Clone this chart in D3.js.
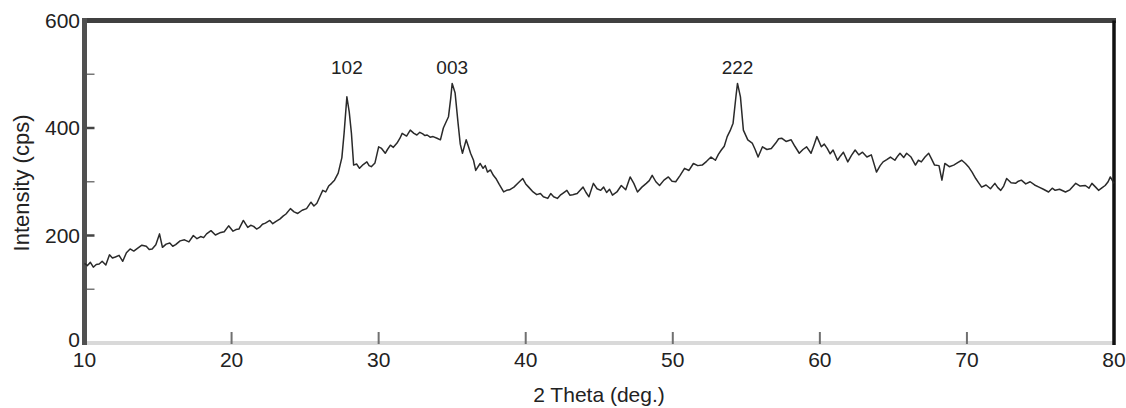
<!DOCTYPE html>
<html>
<head>
<meta charset="utf-8">
<script src="https://cdn.jsdelivr.net/npm/d3@7"></script>
<style>
  body { margin: 0; background: #fff; }
  text { font-family: 'Liberation Sans', Arial, sans-serif; fill: #222; }
</style>
</head>
<body>
<div id="chart"></div>
<script>
// --- Data ---
const twoTheta = [10.0, 10.2, 10.4, 10.6, 10.8, 11.0, 11.2, 11.45, 11.7, 11.9, 12.1, 12.35, 12.6, 12.85, 13.1, 13.35,
  13.6, 13.9, 14.2, 14.4, 14.6, 14.85, 15.1, 15.3, 15.55, 15.8, 16.0, 16.2, 16.5, 16.8, 17.1, 17.4, 17.65, 17.9,
  18.1, 18.3, 18.6, 18.9, 19.2, 19.5, 19.8, 20.1, 20.3, 20.5, 20.8, 21.1, 21.3, 21.5, 21.7, 21.9, 22.1, 22.3,
  22.6, 22.8, 23.0, 23.3, 23.5, 23.7, 24.0, 24.25, 24.5, 24.8, 25.1, 25.4, 25.6, 25.8, 26.0, 26.2, 26.4, 26.6,
  26.8, 27.0, 27.25, 27.5, 27.65, 27.84, 28.0, 28.15, 28.3, 28.5, 28.7, 28.95, 29.2, 29.35, 29.5, 29.75, 30.0,
  30.2, 30.45, 30.6, 30.8, 31.0, 31.25, 31.45, 31.6, 31.9, 32.15, 32.4, 32.6, 32.8, 33.0, 33.15, 33.3, 33.5,
  33.7, 33.97, 34.2, 34.4, 34.6, 34.75, 34.9, 35.0, 35.2, 35.4, 35.55, 35.7, 35.95, 36.1, 36.25, 36.45, 36.6,
  36.9, 37.1, 37.25, 37.4, 37.6, 37.8, 38.0, 38.2, 38.5, 38.7, 38.9, 39.2, 39.5, 39.8, 40.0, 40.2, 40.5, 40.75,
  41.0, 41.2, 41.5, 41.7, 41.9, 42.15, 42.35, 42.5, 42.8, 43.0, 43.2, 43.5, 43.7, 43.9, 44.1, 44.3, 44.6, 44.85,
  45.1, 45.3, 45.5, 45.7, 45.9, 46.2, 46.5, 46.8, 47.1, 47.35, 47.6, 47.9, 48.2, 48.4, 48.6, 48.85, 49.1, 49.4,
  49.7, 49.95, 50.2, 50.5, 50.8, 51.1, 51.4, 51.7, 52.0, 52.3, 52.6, 52.9, 53.1, 53.3, 53.5, 53.7, 53.9, 54.1,
  54.3, 54.4, 54.6, 54.8, 55.1, 55.4, 55.6, 55.8, 56.1, 56.4, 56.7, 57.0, 57.2, 57.4, 57.7, 58.05, 58.3, 58.6,
  58.85, 59.1, 59.4, 59.6, 59.8, 60.1, 60.3, 60.5, 60.7, 60.9, 61.2, 61.4, 61.6, 61.9, 62.15, 62.4, 62.65,
  62.9, 63.2, 63.5, 63.85, 64.1, 64.3, 64.55, 64.8, 65.1, 65.3, 65.45, 65.7, 65.9, 66.2, 66.5, 66.7, 66.9,
  67.15, 67.4, 67.6, 67.8, 68.1, 68.3, 68.5, 68.8, 69.1, 69.4, 69.65, 69.9, 70.1, 70.35, 70.6, 70.8, 71.0,
  71.3, 71.6, 71.9, 72.1, 72.3, 72.5, 72.7, 73.0, 73.3, 73.5, 73.7, 74.0, 74.3, 74.6, 74.9, 75.2, 75.55, 75.8,
  76.0, 76.3, 76.7, 77.0, 77.4, 77.7, 78.05, 78.3, 78.5, 78.75, 78.95, 79.2, 79.4, 79.6, 79.75, 80.0];
const intensity = [148, 144, 150, 141, 146, 147, 152, 145, 164, 158, 160, 163, 152, 168, 175, 171,
  176, 182, 180, 174, 175, 183, 203, 178, 184, 186, 180, 183, 190, 192, 188, 200, 194, 198,
  196, 203, 209, 201, 205, 207, 218, 208, 211, 212, 228, 215, 219, 217, 212, 215, 221, 223,
  228, 222, 226, 231, 236, 240, 250, 244, 241, 247, 250, 262, 255, 260, 272, 284, 281, 292,
  297, 303, 316, 345, 390, 458, 430, 390, 331, 333, 325, 332, 337, 330, 328, 335, 365,
  362, 353, 360, 368, 364, 372, 381, 390, 385, 396, 390, 387, 392, 389, 386, 387, 383,
  384, 381, 378, 400, 412, 421, 455, 483, 465, 409, 370, 353, 378, 366, 353, 340, 321,
  334, 325, 330, 318, 322, 312, 305, 295, 281, 284, 285, 290, 298, 306, 296, 290, 281, 276,
  278, 272, 269, 278, 272, 269, 275, 278, 284, 275, 276, 278, 284, 290, 280, 272, 297, 287,
  284, 290, 280, 286, 275, 281, 293, 285, 309, 297, 281, 290, 297, 302, 312, 300, 293, 303,
  309, 301, 300, 312, 325, 321, 334, 330, 331, 338, 346, 340, 351, 359, 366, 384, 395, 409,
  460, 483, 458, 396, 378, 372, 360, 346, 365, 360, 362, 372, 380, 381, 375, 378, 366, 353,
  360, 365, 353, 368, 384, 365, 370, 362, 352, 359, 340, 348, 355, 337, 349, 359, 350,
  355, 346, 350, 318, 330, 337, 341, 346, 340, 348, 353, 345, 353, 346, 331, 340, 337,
  346, 353, 342, 331, 330, 303, 334, 328, 331, 336, 340, 334, 328, 318, 306, 298, 290,
  294, 287, 297, 289, 284, 292, 306, 298, 297, 301, 303, 296, 300, 294, 290, 286, 281, 288,
  284, 286, 281, 285, 297, 292, 293, 288, 297, 290, 284, 289, 293, 300, 309, 297];

const xTicks = [10, 20, 30, 40, 50, 60, 70, 80];
const yMajorTicks = [0, 200, 400, 600];
const yMinorTicks = [100, 300, 500];
const peakLabels = ['102', '003', '222'];
const peakPositions = [27.84, 35.0, 54.4];

function drawChart() {
    const W = 1126, H = 408;
    const svg = d3.select('#chart').append('svg')
        .attr('width', W).attr('height', H);

    const x = d3.scaleLinear().domain([10, 80]).range([84.5, 1114]);
    const y = d3.scaleLinear().domain([0, 600]).range([343, 20.5]);

    // Bottom axis line (light gray)
    svg.append('line')
        .attr('x1', x(10)).attr('x2', x(80))
        .attr('y1', y(0)).attr('y2', y(0))
        .attr('stroke', '#d9d9d9').attr('stroke-width', 4);

    // x ticks (pointing up, inside)
    svg.selectAll('.xtick').data(xTicks.slice(1, -1)).enter().append('line')
        .attr('x1', d => x(d)).attr('x2', d => x(d))
        .attr('y1', y(0) + 1).attr('y2', y(0) - 11)
        .attr('stroke', '#707070').attr('stroke-width', 2);

    // y ticks (pointing right, inside)
    svg.selectAll('.ymaj').data(yMajorTicks.slice(1, -1)).enter().append('line')
        .attr('x1', x(10)).attr('x2', x(10) + 10)
        .attr('y1', d => y(d)).attr('y2', d => y(d))
        .attr('stroke', '#444').attr('stroke-width', 2.5);
    svg.selectAll('.ymin').data(yMinorTicks).enter().append('line')
        .attr('x1', x(10)).attr('x2', x(10) + 10)
        .attr('y1', d => y(d)).attr('y2', d => y(d))
        .attr('stroke', '#777').attr('stroke-width', 1.5);

    // Top border (thick dark), right border (black), left axis (dark gray)
    svg.append('line')
        .attr('x1', x(10) - 2.5).attr('x2', x(80) + 2)
        .attr('y1', y(600)).attr('y2', y(600))
        .attr('stroke', '#404040').attr('stroke-width', 5);
    svg.append('line')
        .attr('x1', x(80)).attr('x2', x(80))
        .attr('y1', y(600)).attr('y2', y(0) + 2)
        .attr('stroke', '#111').attr('stroke-width', 3.5);
    svg.append('line')
        .attr('x1', x(10)).attr('x2', x(10))
        .attr('y1', y(600) - 2.5).attr('y2', y(0) + 2)
        .attr('stroke', '#505050').attr('stroke-width', 5);

    // Tick labels
    svg.selectAll('.xlab').data(xTicks).enter().append('text')
        .attr('x', d => x(d)).attr('y', 367)
        .attr('text-anchor', 'middle')
        .style('font-size', '21px')
        .text(d => d);
    svg.selectAll('.ylab').data(yMajorTicks).enter().append('text')
        .attr('x', 80).attr('y', d => y(d) + (d === 0 ? 4 : 7))
        .attr('text-anchor', 'end')
        .style('font-size', '21px')
        .text(d => d);

    // Axis titles
    svg.append('text')
        .attr('x', 599).attr('y', 402)
        .attr('text-anchor', 'middle')
        .style('font-size', '21px')
        .text('2 Theta (deg.)');
    svg.append('text')
        .attr('transform', 'translate(29,183) rotate(-90)')
        .attr('text-anchor', 'middle')
        .style('font-size', '22px')
        .text('Intensity (cps)');

    // Diffraction pattern
    const pts = twoTheta.map((t, i) => [t, intensity[i]]);
    const line = d3.line().x(d => x(d[0])).y(d => y(d[1]));
    svg.append('path')
        .datum(pts)
        .attr('d', line)
        .attr('fill', 'none')
        .attr('stroke', '#2a2a2a')
        .attr('stroke-width', 1.5)
        .attr('stroke-linejoin', 'round');

    // Peak labels (all on one line above the peaks)
    svg.selectAll('.peak').data(peakLabels).enter().append('text')
        .attr('x', (d, i) => x(peakPositions[i]))
        .attr('y', 74)
        .attr('text-anchor', 'middle')
        .style('font-size', '19px')
        .text(d => d);
}

drawChart();
</script>
</body>
</html>
